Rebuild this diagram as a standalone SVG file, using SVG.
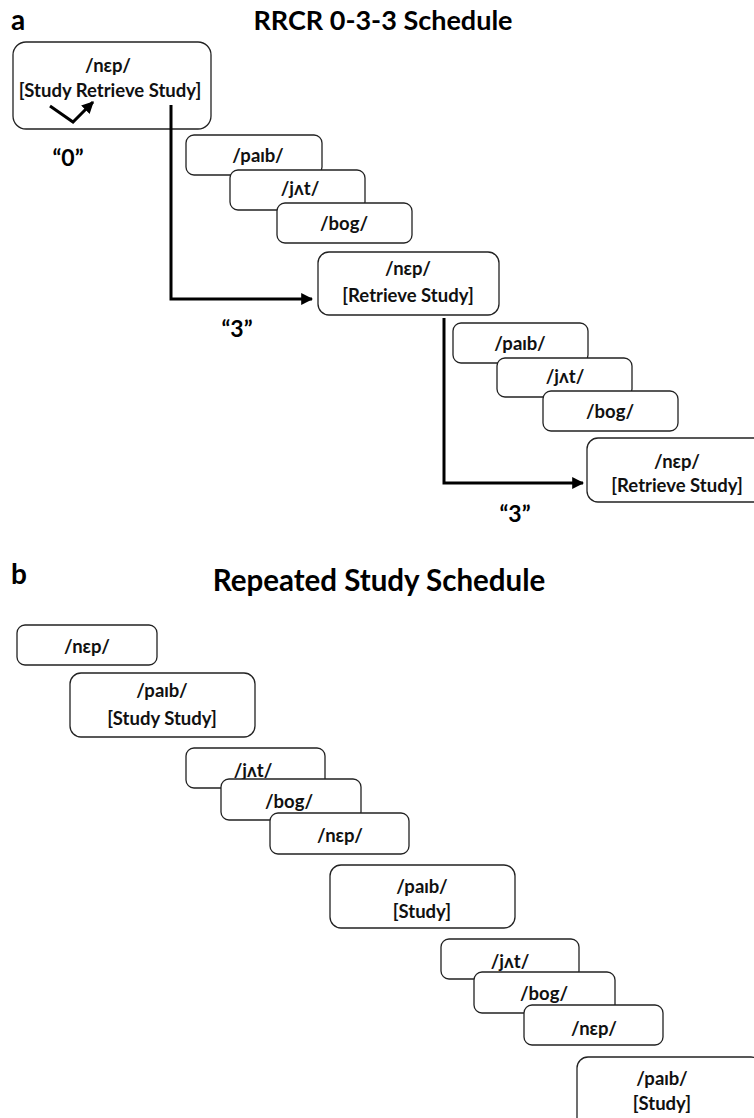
<svg xmlns="http://www.w3.org/2000/svg" width="754" height="1118" viewBox="0 0 754 1118">
<defs>
<style>
.bx{fill:#fff;stroke:#222;stroke-width:1.3}
.t{font-family:Lato,"Open Sans","Liberation Sans",sans-serif;font-size:18.5px;font-weight:700;fill:#111;text-anchor:middle}
.h{font-family:Lato,"Open Sans","Liberation Sans",sans-serif;font-weight:700;fill:#000;text-anchor:middle}
.lab{font-family:Lato,"Open Sans","Liberation Sans",sans-serif;font-size:28px;font-weight:700;fill:#000}
.q{font-family:Lato,"Open Sans","Liberation Sans",sans-serif;font-size:23px;font-weight:700;fill:#000;text-anchor:middle}
.ln{fill:none;stroke:#000;stroke-width:3}
</style>
<marker id="ah" viewBox="0 0 10 10" refX="9" refY="5" markerWidth="4" markerHeight="4" orient="auto" markerUnits="strokeWidth">
<path d="M0,0 L10,5 L0,10 z" fill="#000"/>
</marker>
</defs>
<rect width="754" height="1118" fill="#fff"/>

<text class="lab" x="11" y="30">a</text>
<text class="h" x="383" y="30" font-size="27">RRCR 0-3-3 Schedule</text>

<g id="a-nep1"><rect class="bx" x="13" y="42" width="198" height="87" rx="13"/>
<text class="t" x="108" y="72">/nɛp/</text><text class="t" x="110" y="97">[Study Retrieve Study]</text></g>
<g id="a-paib1"><rect class="bx" x="186" y="135" width="136" height="40" rx="8"/><text class="t" x="258" y="162">/paɪb/</text></g>
<g id="a-jat1"><rect class="bx" x="230" y="170" width="135" height="40" rx="8"/><text class="t" x="300" y="195">/jʌt/</text></g>
<g id="a-bog1"><rect class="bx" x="277" y="203" width="135" height="40" rx="8"/><text class="t" x="344" y="230">/bog/</text></g>
<g id="a-nep2"><rect class="bx" x="318" y="252" width="181" height="63" rx="11"/>
<text class="t" x="408" y="275">/nɛp/</text><text class="t" x="408" y="302">[Retrieve Study]</text></g>
<g id="a-paib2"><rect class="bx" x="453" y="323" width="135" height="40" rx="8"/><text class="t" x="520" y="350">/paɪb/</text></g>
<g id="a-jat2"><rect class="bx" x="497" y="358" width="135" height="39" rx="8"/><text class="t" x="565" y="383">/jʌt/</text></g>
<g id="a-bog2"><rect class="bx" x="543" y="391" width="135" height="40" rx="8"/><text class="t" x="610" y="418">/bog/</text></g>
<g id="a-nep3"><rect class="bx" x="587" y="438" width="181" height="64" rx="11"/>
<text class="t" x="677" y="468">/nɛp/</text><text class="t" x="677" y="492">[Retrieve Study]</text></g>

<g id="connectors">
<polyline class="ln" points="50,106 73,122 93,102" marker-end="url(#ah)"/>
<polyline class="ln" points="171,105 171,299 312,299" marker-end="url(#ah)"/>
<polyline class="ln" points="444,318 444,483 583,483" marker-end="url(#ah)"/>
</g>
<text class="q" x="68" y="166">“0”</text>
<text class="q" x="237" y="337">“3”</text>
<text class="q" x="515" y="522">“3”</text>

<text class="lab" x="11" y="584">b</text>
<text class="h" x="379" y="591" font-size="29.5">Repeated Study Schedule</text>

<g id="b-nep1"><rect class="bx" x="17" y="625" width="140" height="40" rx="8"/><text class="t" x="87" y="653">/nɛp/</text></g>
<g id="b-paib1"><rect class="bx" x="70" y="673" width="185" height="64" rx="11"/>
<text class="t" x="162" y="697">/paɪb/</text><text class="t" x="162" y="725">[Study Study]</text></g>
<g id="b-jat1"><rect class="bx" x="186" y="748" width="139" height="40" rx="8"/><text class="t" x="253" y="777">/jʌt/</text></g>
<g id="b-bog1"><rect class="bx" x="221" y="779" width="140" height="41" rx="8"/><text class="t" x="289" y="808">/bog/</text></g>
<g id="b-nep2"><rect class="bx" x="270" y="813" width="139" height="41" rx="8"/><text class="t" x="340" y="842">/nɛp/</text></g>
<g id="b-paib2"><rect class="bx" x="330" y="865" width="185" height="63" rx="11"/>
<text class="t" x="422" y="893">/paɪb/</text><text class="t" x="422" y="918">[Study]</text></g>
<g id="b-jat2"><rect class="bx" x="441" y="939" width="138" height="40" rx="8"/><text class="t" x="510" y="968">/jʌt/</text></g>
<g id="b-bog2"><rect class="bx" x="474" y="972" width="141" height="41" rx="8"/><text class="t" x="544" y="1000">/bog/</text></g>
<g id="b-nep3"><rect class="bx" x="524" y="1005" width="139" height="40" rx="8"/><text class="t" x="594" y="1035">/nɛp/</text></g>
<g id="b-paib3"><rect class="bx" x="577" y="1057" width="185" height="75" rx="11"/>
<text class="t" x="662" y="1085">/paɪb/</text><text class="t" x="662" y="1110">[Study]</text></g>
</svg>
